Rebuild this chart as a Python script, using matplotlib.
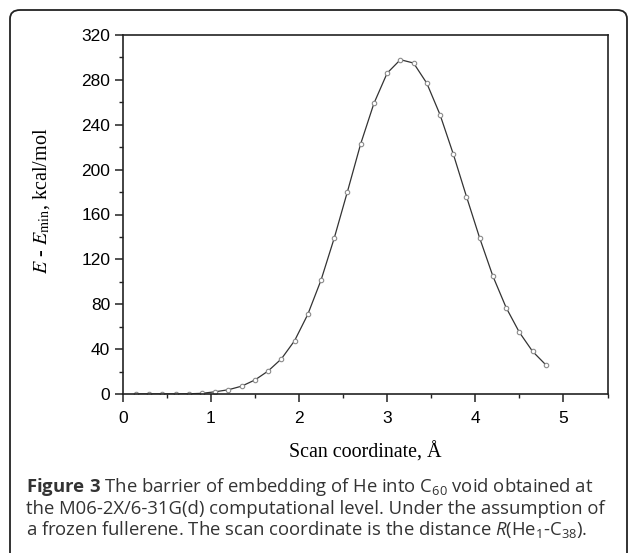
import numpy as np
import matplotlib
matplotlib.use('Agg')
from matplotlib import pyplot as plt
from matplotlib.patches import FancyBboxPatch
from matplotlib.ticker import MultipleLocator

# scan coordinate (Angstrom) and relative energy (kcal/mol)
scan_x = [0.15, 0.30, 0.45, 0.60, 0.75, 0.90, 1.05, 1.20, 1.35, 1.50, 1.65,
          1.80, 1.95, 2.10, 2.25, 2.40, 2.55, 2.70, 2.85, 3.00, 3.15, 3.30,
          3.45, 3.60, 3.75, 3.90, 4.05, 4.20, 4.35, 4.50, 4.65, 4.80]
energy = [0.0, 0.0, 0.0, 0.0, 0.2, 0.6, 2.0, 3.8, 7.0, 12.5, 20.5,
          31.3, 47.5, 71.0, 101.5, 139.0, 180.5, 223.0, 259.0, 286.0, 298.0, 295.0,
          277.0, 249.0, 214.0, 176.0, 139.0, 105.0, 77.0, 55.0, 38.0, 26.0]

W, H = 629, 553
fig = plt.figure(figsize=(W / 100, H / 100), dpi=100)

# rounded frame around figure + caption (bottom runs off the page)
frame = FancyBboxPatch((10 / W, -0.05), (627 - 10) / W, 1.05 - 10 / H,
                       transform=fig.transFigure,
                       boxstyle='round,pad=0,rounding_size=0.016',
                       fc='none', ec='#222222', lw=1.3)
fig.patches.append(frame)

ax = fig.add_axes([122.7 / W, 1 - 394 / H, (607.5 - 122.7) / W, (394 - 35) / H])
ax.plot(scan_x, energy, color='#333333', lw=0.9, marker='o', ms=3.2,
        mfc='white', mec='#8a8a8a', mew=0.8)

ax.set_xlim(0, 5.5)
ax.set_ylim(0, 320)
ax.xaxis.set_major_locator(MultipleLocator(1))
ax.xaxis.set_minor_locator(MultipleLocator(0.5))
ax.yaxis.set_major_locator(MultipleLocator(40))
ax.yaxis.set_minor_locator(MultipleLocator(20))
ax.tick_params(which='major', direction='out', length=6, width=1.1, color='#222222',
               labelsize=12.5, pad=3, top=False, right=False)
ax.tick_params(axis='x', which='major', pad=6)
ax.tick_params(which='minor', direction='out', length=3, width=1.0, color='#222222',
               top=False, right=False)
for lab in ax.get_xticklabels() + ax.get_yticklabels():
    lab.set_family('Liberation Sans')
for s in ax.spines.values():
    s.set_linewidth(1.2)
    s.set_color('#222222')

fig.text(42 / W, 1 - 201 / H, r'$E$ - $E_{\rm min}$, kcal/mol', rotation=90,
         ha='center', va='center', fontsize=14.5, family='Liberation Serif',
         math_fontfamily='stix')
fig.text(365 / W, 1 - 452 / H, 'Scan coordinate, Å', ha='center', va='center',
         fontsize=14.4, family='Liberation Serif')

# caption
plt.rcParams['mathtext.rm'] = 'Open Sans'
plt.rcParams['mathtext.it'] = 'Open Sans:italic'
plt.rcParams['mathtext.bf'] = 'Open Sans:bold'
cap = [r'$\mathbf{Figure\ 3}$ The barrier of embedding of He into C$_{60}$ void obtained at',
       'the M06-2X/6-31G(d) computational level. Under the assumption of',
       r'a frozen fullerene. The scan coordinate is the distance $\mathit{R}$(He$_1$-C$_{38}$).']
for i, line in enumerate(cap):
    fig.text(26 / W, 1 - (487 + 21.5 * i) / H, line, ha='left', va='center',
             fontsize=13.3, family='Open Sans', color='#333333',
             math_fontfamily='custom')

fig.savefig('out.png', dpi=100)
